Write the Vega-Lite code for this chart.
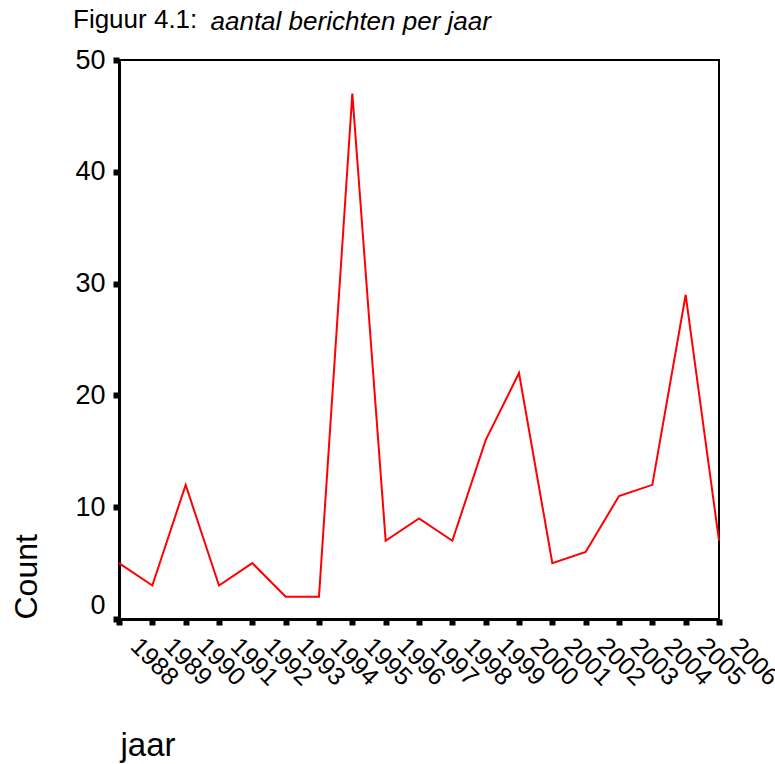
{
  "$schema": "https://vega.github.io/schema/vega-lite/v6.json",
  "width": 600,
  "height": 559,
  "autosize": {"type": "none"},
  "padding": {"left": 119, "top": 60, "right": 56, "bottom": 145},
  "background": "white",
  "title": {
    "text": "Figuur 4.1:",
    "anchor": "start",
    "frame": "group",
    "font": "Liberation Sans",
    "fontSize": 26,
    "fontWeight": "normal",
    "color": "black",
    "baseline": "alphabetic",
    "dx": -46,
    "offset": 0,
    "dy": 46
  },
  "config": {
    "view": {"stroke": "black", "strokeWidth": 2},
    "axis": {
      "labelFont": "Liberation Sans",
      "titleFont": "Liberation Sans",
      "labelColor": "black",
      "titleColor": "black",
      "domainColor": "black",
      "tickColor": "black",
      "grid": false,
      "titleFontWeight": "normal"
    }
  },
  "data": {
    "values": [
      {"jaar": "1988", "count": 5},
      {"jaar": "1989", "count": 3},
      {"jaar": "1990", "count": 12},
      {"jaar": "1991", "count": 3},
      {"jaar": "1992", "count": 5},
      {"jaar": "1993", "count": 2},
      {"jaar": "1994", "count": 2},
      {"jaar": "1995", "count": 47},
      {"jaar": "1996", "count": 7},
      {"jaar": "1997", "count": 9},
      {"jaar": "1998", "count": 7},
      {"jaar": "1999", "count": 16},
      {"jaar": "2000", "count": 22},
      {"jaar": "2001", "count": 5},
      {"jaar": "2002", "count": 6},
      {"jaar": "2003", "count": 11},
      {"jaar": "2004", "count": 12},
      {"jaar": "2005", "count": 29},
      {"jaar": "2006", "count": 7}
    ]
  },
  "resolve": {"axis": {"x": "independent"}},
  "layer": [
    {
      "mark": {"type": "line", "color": "#ff0000", "strokeWidth": 2},
      "encoding": {
        "x": {
          "field": "jaar",
          "type": "ordinal",
          "sort": null,
          "scale": {"type": "point", "padding": 0},
          "axis": {
            "orient": "bottom",
            "title": "jaar",
            "titleFontSize": 33,
            "titleAnchor": "start",
            "titleAlign": "left",
            "titleBaseline": "alphabetic",
            "titleX": 1,
            "titleY": 136,
            "labelAngle": 45,
            "labelAlign": "left",
            "labelBaseline": "top",
            "labelFontSize": 25,
            "labelPadding": 8,
            "labelOffset": 24,
            "labelOverlap": false,
            "labelBound": false,
            "domainWidth": 3,
            "tickSize": 6,
            "tickWidth": 6
          }
        },
        "y": {
          "field": "count",
          "type": "quantitative",
          "scale": {"domain": [0, 50], "nice": false, "zero": true},
          "axis": {
            "title": "Count",
            "titleFontSize": 32,
            "titleAnchor": "start",
            "titleAngle": -90,
            "titleAlign": "left",
            "titleBaseline": "middle",
            "titleX": -93,
            "titleY": 559,
            "values": [0, 10, 20, 30, 40, 50],
            "labelFontSize": 27,
            "labelPadding": 8,
            "labelBaseline": {"expr": "datum.value == 0 ? 'bottom' : 'middle'"},
            "labelFlush": false,
            "domainWidth": 3,
            "tickSize": 6,
            "tickWidth": 6
          }
        }
      }
    },
    {
      "mark": {"type": "line", "strokeOpacity": 0},
      "encoding": {
        "x": {
          "field": "jaar",
          "type": "ordinal",
          "sort": null,
          "axis": {
            "orient": "top",
            "title": "aantal berichten per jaar",
            "titleFontSize": 26,
            "titleFontStyle": "italic",
            "titleAnchor": "start",
            "titleAlign": "left",
            "titleBaseline": "alphabetic",
            "titleX": 91,
            "titleY": -31,
            "labels": false,
            "ticks": false,
            "domain": false
          }
        },
        "y": {"field": "count", "type": "quantitative"}
      }
    }
  ]
}
